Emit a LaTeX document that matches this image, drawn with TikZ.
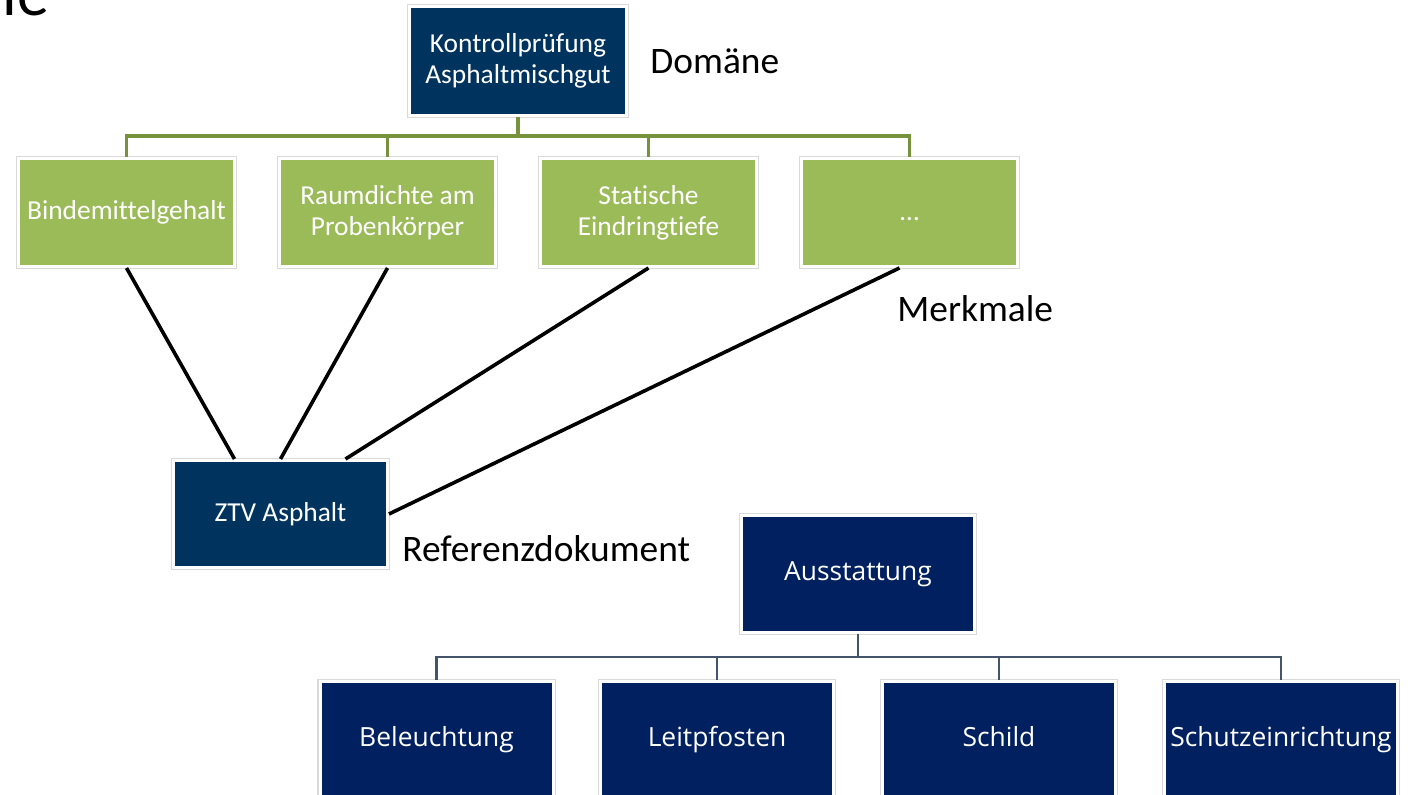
\documentclass[tikz,border=0pt]{standalone}
\usepackage{fontspec}
\setmainfont{Carlito}[Ligatures=NoCommon, RawFeature={-liga;-clig;-calt}]
\newfontfamily\opensans{Open Sans}
\usetikzlibrary{positioning}

\definecolor{deepblue}{RGB}{0,52,95}
\definecolor{navyblue}{RGB}{0,32,96}
\definecolor{leafgreen}{RGB}{155,187,89}
\definecolor{olivegreen}{RGB}{118,146,60}
\definecolor{slategray}{RGB}{68,84,106}

\begin{document}
\begin{tikzpicture}[x=0.5pt, y=-0.5pt,
  box/.style={rectangle, inner sep=0pt, text=white, align=center, draw=white, line width=1.5pt,
    preaction={draw=black!15, line width=2.6pt}},
  domainbox/.style={box, fill=deepblue, minimum width=108.5pt, minimum height=54.5pt,
    font=\fontsize{13.7}{15.5}\selectfont},
  featurebox/.style={box, fill=leafgreen, minimum width=108pt, minimum height=54pt,
    font=\fontsize{13.7}{15.5}\selectfont},
  refbox/.style={box, fill=deepblue, minimum width=107pt, minimum height=53.5pt,
    font=\fontsize{13.7}{15.5}\selectfont},
  equipbox/.style={box, fill=navyblue, minimum width=116.5pt, minimum height=58.5pt,
    text height=9.6pt, text depth=2.8pt, font=\opensans\fontsize{13.2}{16}\selectfont},
  caption/.style={anchor=west, inner sep=0pt, font=\fontsize{18.7}{22}\selectfont},
  stem/.style={olivegreen, line width=1.8pt},
  branch/.style={slategray, line width=1.3pt},
  link/.style={black, line width=1.8pt}
]
\useasboundingbox (0,0) rectangle (1408,795);
\def\rowa{212.5}
\def\rowb{740}

% leftover of the slide title
\node[anchor=base west, inner sep=0pt, font=\fontsize{32}{36}\selectfont] (title) at (2,16) {le};

% Domaene und Merkmale
\node[domainbox] (kontroll) at (518,61) {Kontrollprüfung\\Asphaltmischgut};
\node[featurebox] (bind) at (126.5,\rowa) {Bindemittelgehalt};
\node[featurebox] (raum) at (387.5,\rowa) {Raumdichte am\\Probenkörper};
\node[featurebox] (statisch) at (648.5,\rowa) {Statische\\Eindringtiefe};
\node[featurebox, text height=8pt, text depth=0pt] (weitere) at (909.5,\rowa) {…};

\foreach \n in {bind, raum, statisch, weitere}
  \draw[stem] (kontroll.south) -- ++(0,19) -| (\n.north);

\node[caption] (domaene) at (650,61) {Domäne};
\node[caption] (merkmale) at (897,309) {Merkmale};

% Referenzdokument
\node[refbox] (ztv) at (280.5,514) {ZTV Asphalt};
\node[caption] (referenz) at (402,549) {Referenzdokument};

\draw[link] (bind.south) -- ([xshift=-23pt]ztv.north);
\draw[link] (raum.south) -- (ztv.north);
\draw[link] (statisch.south) -- ([xshift=32.5pt]ztv.north);
\draw[link] ([xshift=-5pt]weitere.south) -- (ztv.east);

% Ausstattung
\node[equipbox] (aus) at (858,574) {Ausstattung};
\node[equipbox] (beleucht) at (436.5,\rowb) {Beleuchtung};
\node[equipbox] (leit) at (717,\rowb) {Leitpfosten};
\node[equipbox] (schild) at (999,\rowb) {Schild};
\node[equipbox] (schutz) at (1281,\rowb) {Schutzeinrichtung};

\foreach \n in {beleucht, leit, schild, schutz}
  \draw[branch] (aus.south) -- ++(0,23) -| (\n.north);
\end{tikzpicture}
\end{document}
